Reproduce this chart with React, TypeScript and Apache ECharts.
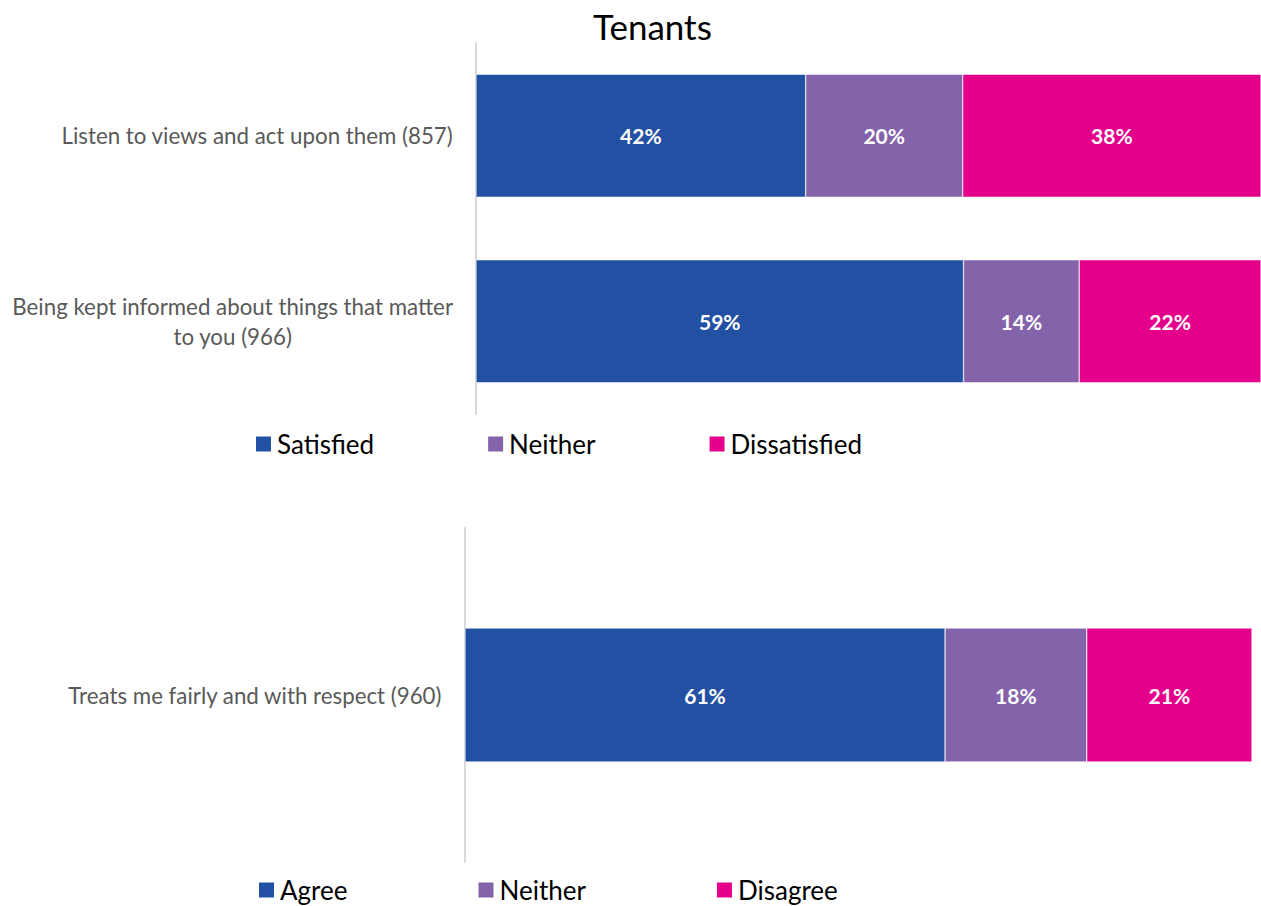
import React, { useEffect, useRef } from "react";
import * as echarts from "echarts";

const titleText = "Tenants";

const topCategories = [
  "Listen to views and act upon them (857)",
  "Being kept informed about things that matter to you (966)",
];
const topSatisfied = [42, 59];
const topNeither = [20, 14];
const topDissatisfied = [38, 22];
const topLegend = ["Satisfied", "Neither", "Dissatisfied"];

const bottomCategories = ["Treats me fairly and with respect (960)"];
const bottomAgree = [61];
const bottomNeither = [18];
const bottomDisagree = [21];
const bottomLegend = ["Agree", "Neither", "Disagree"];

const COLORS = ["#2251A3", "#8463AB", "#E5008B"];
const FONT = "Lato";

function wrap(s: string, max: number): string {
  const words = s.split(" ");
  const lines: string[] = [];
  let cur = "";
  for (const w of words) {
    const next = cur ? cur + " " + w : w;
    if (next.length > max && cur) {
      lines.push(cur);
      cur = w;
    } else cur = next;
  }
  if (cur) lines.push(cur);
  return lines.map((l) => "{c|" + l + "}").join("\n");
}

function shares(rows: number[][]): number[][] {
  const n = rows[0].length;
  const totals = Array.from({ length: n }, (_, i) =>
    rows.reduce((a, r) => a + r[i], 0)
  );
  return rows.map((r) => r.map((v, i) => (v / totals[i]) * 100));
}

export default function App() {
  const ref = useRef<HTMLDivElement>(null);
  useEffect(() => {
    document.body.style.margin = "0";
    const chart = echarts.init(ref.current!, null, { renderer: "svg" });
    const topRows = [topSatisfied, topNeither, topDissatisfied];
    const botRows = [bottomAgree, bottomNeither, bottomDisagree];
    const topShares = shares(topRows);
    const botShares = shares(botRows);

    const mkSeries = (
      names: string[],
      rows: number[][],
      sh: number[][],
      idx: number
    ) =>
      names.map((name, k) => ({
        type: "bar",
        name,
        stack: "s" + idx,
        xAxisIndex: idx,
        yAxisIndex: idx,
        barWidth: idx === 0 ? 123 : 134,
        itemStyle: { color: COLORS[k], borderColor: "#ffffff", borderWidth: 0.5 },
        label: {
          show: true,
          position: "inside",
          color: "#ffffff",
          fontFamily: FONT,
          fontWeight: "bold",
          fontSize: 21,
          formatter: (p: any) => rows[k][p.dataIndex] + "%",
        },
        data: sh[k],
      }));

    const yAxisCommon = {
      type: "category",
      inverse: true,
      axisTick: { show: false },
      axisLine: { show: true, lineStyle: { color: "#D9D9D9", width: 2 } },
      axisLabel: {
        margin: 23,
        formatter: (v: string) => wrap(v, 44),
        rich: {
          c: {
            align: "center",
            color: "#595959",
            fontFamily: FONT,
            fontSize: 22.3,
            lineHeight: 30,
          },
        },
      },
    };

    const legendCommon = {
      icon: "rect",
      itemWidth: 17,
      itemHeight: 17,
      textStyle: {
        color: "#000000",
        fontFamily: FONT,
        fontSize: 26,
      },
    };

    chart.setOption({
      animation: false,
      title: {
        text: titleText,
        left: 588,
        top: 3,
        textStyle: {
          fontFamily: FONT,
          fontWeight: "normal",
          fontSize: 35,
          color: "#000000",
        },
      },
      legend: [
        {
          ...legendCommon,
          data: topLegend,
          left: 249,
          top: 426,
          itemGap: 112,
        },
        {
          ...legendCommon,
          data: bottomLegend,
          left: 252,
          top: 872,
          itemGap: 129,
        },
      ],
      grid: [
        { left: 476, right: 0, top: 43, height: 371 },
        { left: 465, right: 9, top: 528, height: 334 },
      ],
      xAxis: [
        { type: "value", gridIndex: 0, min: 0, max: 100, show: false },
        { type: "value", gridIndex: 1, min: 0, max: 100, show: false },
      ],
      yAxis: [
        { ...yAxisCommon, gridIndex: 0, data: topCategories },
        { ...yAxisCommon, gridIndex: 1, data: bottomCategories },
      ],
      series: [
        ...mkSeries(topLegend, topRows, topShares, 0),
        ...mkSeries(bottomLegend, botRows, botShares, 1),
      ],
    } as any);
    return () => chart.dispose();
  }, []);
  return <div ref={ref} style={{ width: 1261, height: 906 }} />;
}
